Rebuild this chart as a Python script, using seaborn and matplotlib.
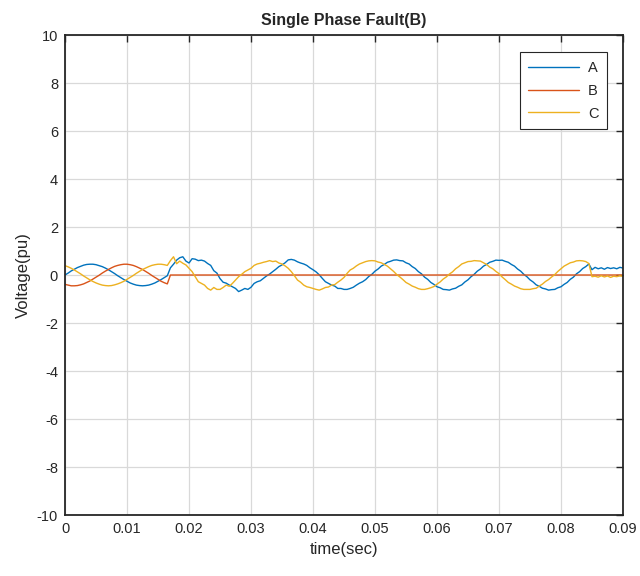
import numpy as np
import pandas as pd
import matplotlib
matplotlib.use("Agg")
import matplotlib.pyplot as plt
import seaborn as sns

sns.set_style("whitegrid")
plt.rcParams['font.family'] = ['Liberation Sans', 'DejaVu Sans']
plt.rcParams['axes.unicode_minus'] = False

# ---- data (one sample every 0.5 ms, 0 .. 0.09 s) ----
step = 0.0005

phase_a = [
    0.00, 0.08, 0.17, 0.24, 0.31, 0.36, 0.41, 0.44, 0.45, 0.45,
    0.43, 0.39, 0.35, 0.29, 0.22, 0.14, 0.06, -0.03, -0.11, -0.19,
    -0.26, -0.33, -0.38, -0.42, -0.44, -0.45, -0.44, -0.42, -0.38, -0.33,
    -0.26, -0.19, -0.11, -0.03,
    # fault on B
    0.30, 0.45, 0.62, 0.72, 0.76, 0.58, 0.50, 0.68, 0.66, 0.60,
    0.62, 0.58, 0.48, 0.40, 0.18, 0.08, -0.15, -0.30, -0.34, -0.42,
    -0.49, -0.56, -0.69, -0.63, -0.56, -0.60, -0.51, -0.35, -0.28, -0.24,
    -0.14, -0.04, 0.04, 0.14, 0.24, 0.35, 0.42, 0.51, 0.63, 0.65, 0.62,
    0.55, 0.50, 0.46, 0.40, 0.30, 0.22, 0.13, 0.01, -0.14, -0.28,
    -0.35, -0.42, -0.46, -0.56, -0.56, -0.60, -0.60, -0.56, -0.51, -0.42, -0.34,
    -0.28, -0.19, -0.06, 0.03, 0.16, 0.25, 0.37, 0.44, 0.53, 0.57,
    0.62, 0.63, 0.60, 0.59, 0.51, 0.46, 0.35, 0.27, 0.14, 0.05,
    -0.09, -0.18, -0.31, -0.39, -0.49, -0.53, -0.60, -0.61, -0.63, -0.58,
    -0.55, -0.47, -0.41, -0.29, -0.20, -0.07, 0.03, 0.16, 0.25, 0.37,
    0.44, 0.53, 0.57, 0.62, 0.61, 0.62, 0.57, 0.53, 0.44, 0.37,
    0.25, 0.16, 0.03, -0.07, -0.20, -0.29, -0.41, -0.47, -0.55, -0.58,
    -0.63, -0.61, -0.60, -0.53, -0.49, -0.39, -0.31, -0.18, -0.09, 0.05,
    0.14, 0.27, 0.35, 0.46,
    # after clearing
    0.22, 0.32, 0.26, 0.30, 0.24, 0.31, 0.27, 0.30, 0.26, 0.32, 0.29,
]

phase_b = [
    -0.39, -0.42, -0.45, -0.45, -0.44, -0.41, -0.37, -0.31, -0.25, -0.17,
    -0.09, -0.01, 0.08, 0.16, 0.23, 0.30, 0.36, 0.40, 0.43, 0.45,
    0.45, 0.43, 0.40, 0.35, 0.29, 0.23, 0.15, 0.07, -0.02, -0.10,
    -0.18, -0.26, -0.32, -0.37,
    # faulted phase sits at zero
    0, 0, 0, 0, 0, 0, 0, 0, 0, 0, 0, 0, 0, 0, 0, 0, 0, 0, 0, 0, 0,
    0, 0, 0, 0, 0, 0, 0, 0, 0, 0, 0, 0, 0, 0, 0, 0, 0, 0, 0, 0, 0,
    0, 0, 0, 0, 0, 0, 0, 0, 0, 0, 0, 0, 0, 0, 0, 0, 0, 0, 0, 0, 0,
    0, 0, 0, 0, 0, 0, 0, 0, 0, 0, 0, 0, 0, 0, 0, 0, 0, 0, 0, 0, 0,
    0, 0, 0, 0, 0, 0, 0, 0, 0, 0, 0, 0, 0, 0, 0, 0, 0, 0, 0, 0, 0,
    0, 0, 0, 0, 0, 0, 0, 0, 0, 0, 0, 0, 0, 0, 0, 0, 0, 0, 0, 0, 0,
    0, 0, 0, 0, 0, 0, 0, 0, 0, 0, 0, 0, 0, 0, 0, 0, 0, 0, 0, 0, 0,
]

phase_c = [
    0.39, 0.34, 0.28, 0.21, 0.13, 0.05, -0.04, -0.12, -0.20, -0.27,
    -0.33, -0.38, -0.42, -0.44, -0.45, -0.44, -0.41, -0.37, -0.32, -0.26,
    -0.18, -0.10, -0.02, 0.07, 0.15, 0.23, 0.29, 0.35, 0.40, 0.43,
    0.45, 0.45, 0.43, 0.40,
    # fault on B
    0.60, 0.76, 0.47, 0.58, 0.49, 0.42, 0.28, 0.14, -0.07, -0.28,
    -0.35, -0.42, -0.56, -0.63, -0.52, -0.60, -0.60, -0.52, -0.42, -0.47,
    -0.35, -0.21, -0.07, 0.03, 0.14, 0.21, 0.28, 0.40, 0.46, 0.49,
    0.53, 0.56, 0.60, 0.56, 0.58, 0.50, 0.46, 0.38, 0.28, 0.14, -0.03,
    -0.21, -0.30, -0.42, -0.49, -0.52, -0.56, -0.60, -0.63, -0.58, -0.52,
    -0.50, -0.42, -0.40, -0.30, -0.21, -0.10, 0.07, 0.21, 0.28, 0.38, 0.46,
    0.51, 0.56, 0.59, 0.60, 0.59, 0.54, 0.51, 0.44, 0.37, 0.26,
    0.15, 0.02, -0.08, -0.19, -0.31, -0.38, -0.46, -0.51, -0.57, -0.60,
    -0.60,
    -0.57, -0.53, -0.48, -0.38, -0.29, -0.17, -0.08, 0.04, 0.13, 0.26,
    0.35, 0.46, 0.51, 0.56, 0.57, 0.60, 0.59, 0.58, 0.51, 0.44,
    0.33, 0.26, 0.15, 0.06, -0.08, -0.19, -0.31, -0.38, -0.46, -0.51,
    -0.57, -0.60, -0.60,
    -0.60, -0.57, -0.55, -0.46, -0.38, -0.27, -0.19, -0.08, 0.02, 0.15,
    0.26, 0.37, 0.44, 0.51, 0.54, 0.59, 0.60, 0.59, 0.56, 0.48,
    # after clearing
    -0.07, -0.05, -0.09, -0.03, -0.08, -0.04, -0.10, -0.05, -0.07, -0.03, -0.06,
]

phases = ['A', 'B', 'C']
colors = ['#0072BD', '#D95319', '#EDB120']

n = len(phase_a)
time = np.round(np.arange(n) * step, 4)

df = pd.DataFrame({
    'time': np.concatenate([time, time, time]),
    'voltage': phase_a + phase_b + phase_c,
    'phase': ['A'] * n + ['B'] * len(phase_b) + ['C'] * len(phase_c),
})

# ---- plot ----
fig = plt.figure(figsize=(6.4, 5.76), dpi=100)
ax = fig.add_axes([0.1016, 0.1059, 0.8718, 0.8333])

sns.lineplot(data=df, x='time', y='voltage', hue='phase', hue_order=phases,
             palette=colors, linewidth=1.0, estimator=None, sort=False, ax=ax)

ax.set_xlim(0, 0.09)
ax.set_ylim(-10, 10)
xt = [0, 0.01, 0.02, 0.03, 0.04, 0.05, 0.06, 0.07, 0.08, 0.09]
ax.set_xticks(xt)
ax.set_xticklabels(['0'] + ['%.2f' % v for v in xt[1:]])
ax.set_yticks(range(-10, 11, 2))

ax.grid(True, color='#d9d9d9', linewidth=0.9)
for s in ax.spines.values():
    s.set_color('#262626')
    s.set_linewidth(1.3)
ax.tick_params(direction='in', top=True, right=True, length=5, width=1,
               color='#262626', labelcolor='#262626', labelsize=10.5, pad=5)

ax.set_xlabel('time(sec)', fontsize=12, color='#262626', labelpad=4)
ax.set_ylabel('Voltage(pu)', fontsize=12, color='#262626', labelpad=4)
ax.set_title('Single Phase Fault(B)', fontsize=11.5, fontweight='bold', pad=7)

handles, labels = ax.get_legend_handles_labels()
leg = ax.legend(handles, labels, loc='upper right', bbox_to_anchor=(0.972, 0.964),
                borderaxespad=0, fancybox=False, framealpha=1, edgecolor='#262626',
                fontsize=10.5, handlelength=3.5, handletextpad=0.6,
                labelspacing=0.6, borderpad=0.6)
leg.get_frame().set_linewidth(0.8)

fig.savefig('out.png', dpi=100)
